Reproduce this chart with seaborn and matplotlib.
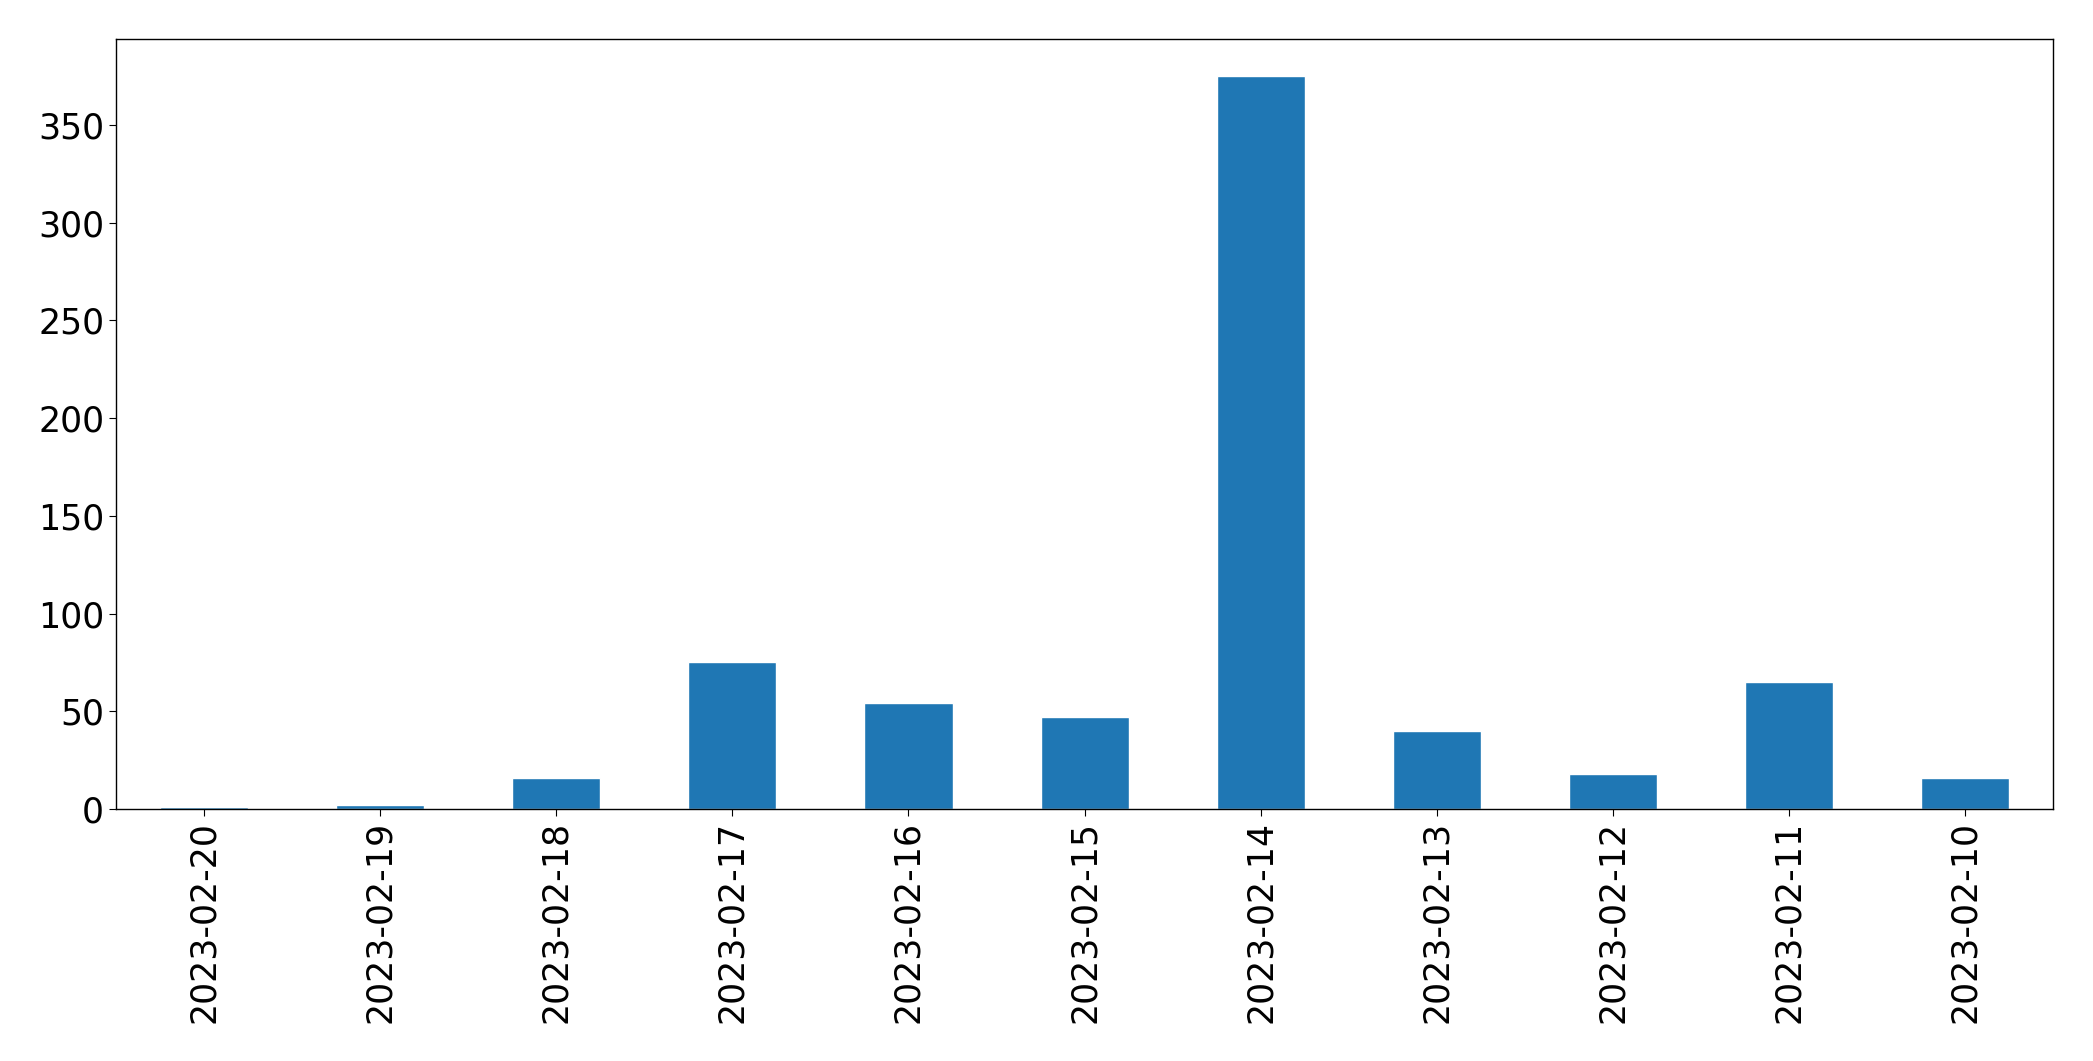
import matplotlib
matplotlib.use("Agg")
import matplotlib.pyplot as plt
import seaborn as sns
import pandas as pd

# daily counts, newest first
dates = ['2023-02-20', '2023-02-19', '2023-02-18', '2023-02-17', '2023-02-16',
         '2023-02-15', '2023-02-14', '2023-02-13', '2023-02-12', '2023-02-11',
         '2023-02-10']
counts = [1, 2, 16, 75, 54, 47, 375, 40, 18, 65, 16]

df = pd.DataFrame({'date': dates, 'count': counts})

sns.set_style('ticks')
plt.rcParams['font.family'] = ['DejaVu Sans']

fig, ax = plt.subplots(figsize=(20.93, 10.61), dpi=100)
sns.barplot(data=df, x='date', y='count', order=dates, color='#1f77b4',
            saturation=1, width=0.5, ax=ax)

ax.set_xlim(-0.5, len(dates) - 0.5)
ax.set_xlabel('')
ax.set_ylabel('')
ax.tick_params(axis='both', labelsize=25, length=5, color='black',
               labelcolor='black')
ax.tick_params(axis='x', labelrotation=90)
for side in ['top', 'right', 'left', 'bottom']:
    ax.spines[side].set_visible(True)
    ax.spines[side].set_linewidth(1.0)
    ax.spines[side].set_color('black')

fig.subplots_adjust(left=0.0554, right=0.981, top=0.963, bottom=0.2375)
fig.savefig('out.png', dpi=100)
